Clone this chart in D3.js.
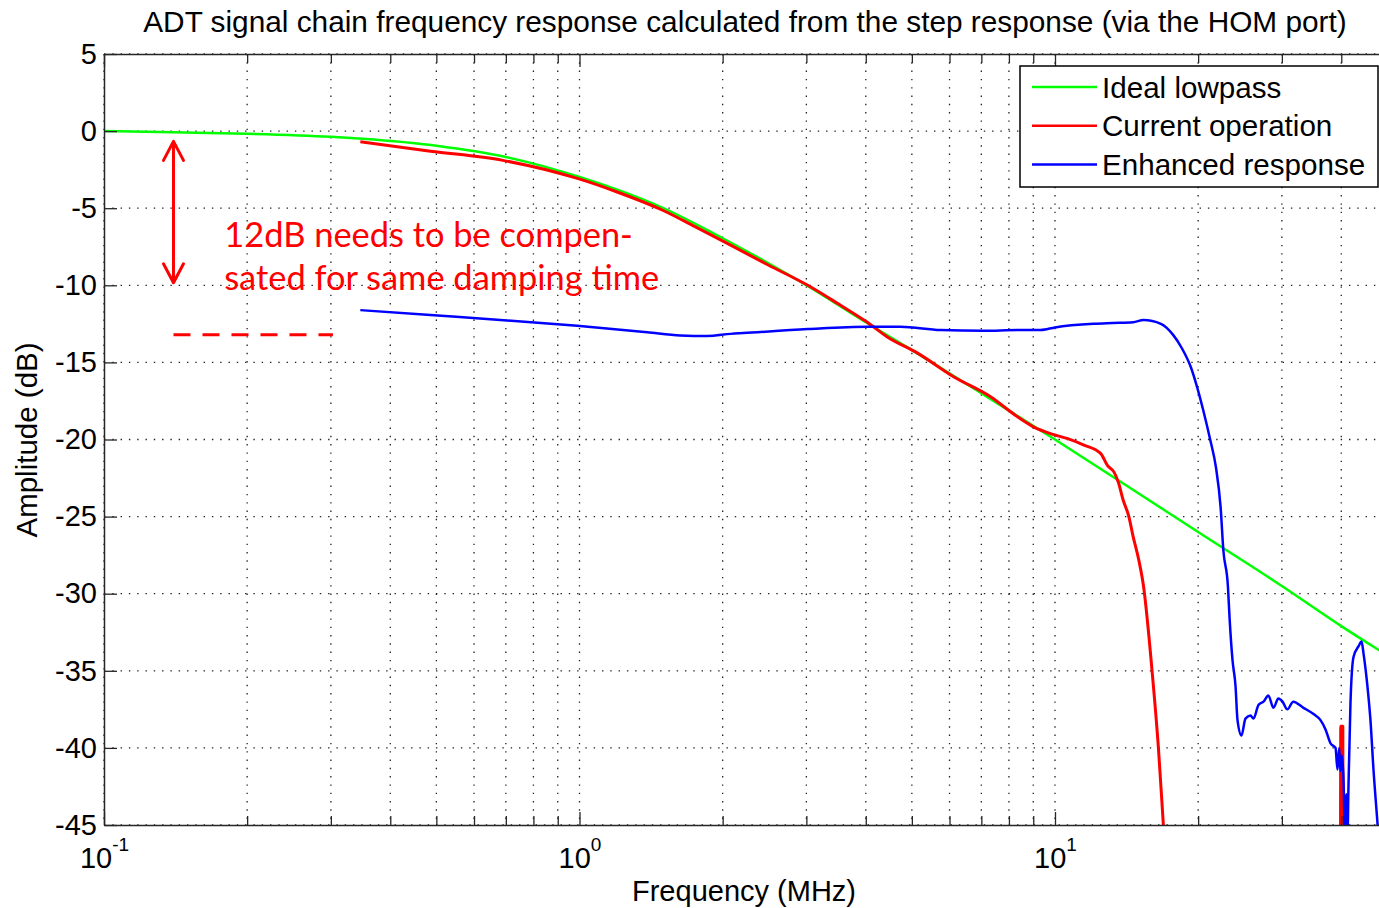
<!DOCTYPE html>
<html>
<head>
<meta charset="utf-8">
<script src="https://cdn.jsdelivr.net/npm/d3@7"></script>
<style>
  body { margin: 0; background: #fff; }
  svg { display: block; }
  text { font-family: "Liberation Sans", Arial, Helvetica, sans-serif; }
</style>
</head>
<body>
<script>
// values: frequency in MHz, amplitude in dB
const idealF  = [0.1, 0.14, 0.2, 0.3, 0.35, 0.5, 0.7, 1.0, 1.5, 2.0, 3.0, 4.0, 5.0, 7.0, 10, 14, 20, 30, 40, 50];
const idealDb = [0, -0.08, -0.17, -0.37, -0.5, -0.95, -1.68, -2.98, -5.0, -6.95, -10.0, -12.4, -14.2, -17.0, -20.0, -22.9, -26.0, -29.5, -32.1, -34.0];

const currentF  = [0.346, 0.486, 0.69, 0.99, 1.2, 1.5, 1.75, 2.05, 2.5, 3.02, 3.5, 4.03, 4.44, 5.14, 6.12, 7.32, 8.34, 9.01, 9.9, 10.6, 11.5, 12.47,
                   12.9, 13.3, 13.6, 13.9, 14.3, 14.6, 15.0, 15.35, 16.0, 16.5, 16.9, 17.3, 39.8, 39.9, 40.3, 40.4];
const currentDb = [-0.69, -1.3, -1.9, -3.07, -3.95, -5.15, -6.2, -7.3, -8.7, -10.0, -11.2, -12.4, -13.35, -14.4, -15.93, -17.23, -18.53, -19.18, -19.67, -19.93, -20.36, -20.9,
                   -21.7, -22.1, -22.8, -23.9, -25.0, -26.3, -27.8, -29.5, -35.0, -40.0, -45.0, -50, -55, -38.6, -38.6, -55];

const enhancedF  = [0.346, 0.486, 0.693, 0.989, 1.388, 1.63, 1.857, 2.08, 2.21, 3.02, 4.03, 4.73, 5.74, 7.07, 8.34, 9.32, 10.0,
                    12.05, 13.2, 14.6, 15.35, 16.7, 17.7, 18.5, 19.3, 19.9, 20.5, 21.2, 21.8, 22.3, 22.6, 23.1, 23.3, 23.62,
                    23.97, 24.2, 24.67, 25.15, 25.77, 26.15, 26.8, 27.45, 28.1, 28.8, 29.5, 30.1, 30.8, 31.7, 33.3, 34.97,
                    36.17, 37.06, 37.96, 38.9, 39.27, 39.6, 39.84, 40.1, 40.43, 40.7, 41.0, 41.2, 41.42, 41.82, 42.44, 43.5,
                    44.13, 44.56, 45.4, 46.07, 46.75, 47.7, 48.5];
const enhancedDb = [-11.61, -11.93, -12.26, -12.63, -13.04, -13.25, -13.29, -13.15, -13.1, -12.84, -12.69, -12.69, -12.9, -12.95, -12.9, -12.9, -12.73,
                    -12.5, -12.45, -12.4, -12.25, -12.5, -13.2, -14.1, -15.3, -16.6, -18.1, -20.0, -21.8, -24.4, -27.2, -29.5, -31.7, -34.3,
                    -36.0, -38.2, -39.2, -38.1, -37.9, -38.1, -37.2, -37.0, -36.6, -37.4, -36.8, -37.0, -37.5, -37.0, -37.4, -37.8,
                    -38.2, -38.8, -39.7, -40.0, -41.4, -40.0, -41.5, -40.5, -42.0, -45.5, -43.0, -46.0, -42.5, -37.1, -34.1, -33.4,
                    -33.1, -33.9, -36.0, -38.2, -41.4, -45.0, -48.0];

const majorTicks = [0.1, 1, 10];
const majorExp = ["-1", "0", "1"];
const minorTicks = [0.2, 0.3, 0.4, 0.5, 0.6, 0.7, 0.8, 0.9, 2, 3, 4, 5, 6, 7, 8, 9, 20, 30, 40];
const yTicks = [5, 0, -5, -10, -15, -20, -25, -30, -35, -40, -45];

const seriesNames = ["Ideal lowpass", "Current operation", "Enhanced response"];
const seriesColors = ["#00ff00", "#ff0000", "#0000ff"];
const seriesWidths = [2.5, 3, 2.5];

const titleText = "ADT signal chain frequency response calculated from the step response (via the HOM port)";
const noteLines = ["12dB needs to be compen-", "sated for same damping time"];

const width = 1379, height = 908;
const plotLeft = 104, plotTop = 54, plotBottom = 825;
const decade = 475.5;
const plotRight = plotLeft + decade * Math.log10(50 / 0.1);

const svg = d3.select("body").append("svg")
    .attr("width", width)
    .attr("height", height);

const x = d3.scaleLog().domain([0.1, 50]).range([plotLeft, plotRight]);
const y = d3.scaleLinear().domain([-45, 5]).range([plotBottom, plotTop]);

svg.append("clipPath").attr("id", "plotclip")
  .append("rect")
    .attr("x", plotLeft).attr("y", plotTop)
    .attr("width", plotRight - plotLeft).attr("height", plotBottom - plotTop);

// dotted grid
const grid = svg.append("g").attr("class", "grid");
grid.selectAll(".vgrid")
  .data(majorTicks.concat(minorTicks))
  .join("line")
    .attr("class", "vgrid")
    .attr("x1", d => x(d)).attr("x2", d => x(d))
    .attr("y1", plotTop).attr("y2", plotBottom);
grid.selectAll(".hgrid")
  .data(yTicks)
  .join("line")
    .attr("class", "hgrid")
    .attr("x1", plotLeft).attr("x2", plotRight)
    .attr("y1", d => y(d)).attr("y2", d => y(d));
grid.selectAll("line")
    .attr("stroke", "#222")
    .attr("stroke-width", 1.3)
    .attr("stroke-dasharray", "1.4,6.9");

// curves
const series = [
  d3.zip(idealF, idealDb),
  d3.zip(currentF, currentDb),
  d3.zip(enhancedF, enhancedDb)
];

const lineGen = d3.line()
    .x(d => x(d[0]))
    .y(d => y(d[1]))
    .curve(d3.curveMonotoneX);

svg.append("g")
    .attr("clip-path", "url(#plotclip)")
  .selectAll("path")
  .data(series)
  .join("path")
    .attr("d", lineGen)
    .attr("fill", "none")
    .attr("stroke", (d, i) => seriesColors[i])
    .attr("stroke-width", (d, i) => seriesWidths[i])
    .attr("stroke-linejoin", "round");

// axes: ticks point inwards like MATLAB
const axisStyle = g => {
  g.select(".domain").attr("stroke", "#262626").attr("stroke-width", 1.5);
  g.selectAll(".tick line").attr("stroke", "#262626").attr("stroke-width", 1.3);
};

const xAxis = svg.append("g")
    .attr("transform", `translate(0,${plotBottom})`)
    .call(d3.axisBottom(x).tickValues(majorTicks).tickSize(-13).tickSizeOuter(0).tickPadding(22).tickFormat(() => ""))
    .call(axisStyle);

xAxis.selectAll(".tick text")
    .attr("font-size", 29)
    .attr("fill", "#000")
    .attr("dy", "0.71em")
    .attr("text-anchor", "middle")
    .each(function(d, i) {
      const t = d3.select(this);
      t.append("tspan").text("10");
      t.append("tspan").attr("font-size", 19).attr("dy", "-0.85em").text(majorExp[i]);
    });

svg.append("g")
    .attr("transform", `translate(0,${plotBottom})`)
    .call(d3.axisBottom(x).tickValues(minorTicks).tickSize(-9).tickSizeOuter(0).tickFormat(() => ""))
    .call(axisStyle)
    .call(g => g.select(".domain").remove());

// top edge with ticks
svg.append("g")
    .attr("transform", `translate(0,${plotTop})`)
    .call(d3.axisTop(x).tickValues(majorTicks).tickSize(-13).tickSizeOuter(0).tickFormat(() => ""))
    .call(axisStyle);
svg.append("g")
    .attr("transform", `translate(0,${plotTop})`)
    .call(d3.axisTop(x).tickValues(minorTicks).tickSize(-9).tickSizeOuter(0).tickFormat(() => ""))
    .call(axisStyle)
    .call(g => g.select(".domain").remove());

svg.append("g")
    .attr("transform", `translate(${plotLeft},0)`)
    .call(d3.axisLeft(y).tickValues(yTicks).tickSize(-13).tickSizeOuter(0).tickPadding(7).tickFormat(d => String(d)))
    .call(axisStyle)
    .call(g => g.selectAll(".tick text").attr("font-size", 29).attr("fill", "#000"));

// titles
svg.append("text")
    .attr("x", 745).attr("y", 32)
    .attr("text-anchor", "middle")
    .attr("font-size", 29.8)
    .text(titleText);

svg.append("text")
    .attr("x", 744).attr("y", 901)
    .attr("text-anchor", "middle")
    .attr("font-size", 29)
    .text("Frequency (MHz)");

svg.append("text")
    .attr("transform", "translate(37,440) rotate(-90)")
    .attr("text-anchor", "middle")
    .attr("font-size", 29.5)
    .text("Amplitude (dB)");

// annotation: 12 dB gap arrow, level line and note
const red = "#ff0000";
const ax = x(0.14), aTop = y(-0.6), aBot = y(-9.9);
const ann = svg.append("g").attr("stroke", red).attr("fill", "none")
    .attr("stroke-width", 3).attr("stroke-linecap", "round").attr("stroke-linejoin", "round");
ann.append("line").attr("x1", ax).attr("x2", ax).attr("y1", aTop + 2).attr("y2", aBot - 2);
ann.append("path").attr("d", `M${ax - 10},${aTop + 20}L${ax},${aTop + 1}L${ax + 10},${aTop + 20}`);
ann.append("path").attr("d", `M${ax - 10},${aBot - 20}L${ax},${aBot - 1}L${ax + 10},${aBot - 20}`);

svg.append("line")
    .attr("x1", x(0.14)).attr("x2", x(0.303))
    .attr("y1", y(-13.2)).attr("y2", y(-13.2))
    .attr("stroke", red).attr("stroke-width", 3)
    .attr("stroke-dasharray", "17,12");

const note = svg.append("g").attr("fill", red);
const noteTexts = note.selectAll("text")
  .data(noteLines)
  .join("text")
    .attr("x", x(0.179))
    .attr("y", (d, i) => i === 0 ? y(-7.5) : y(-10.3))
    .style("font-family", "Lato, 'Open Sans', sans-serif")
    .attr("font-size", 34)
    .text(d => d);
// fit the second line to its width in the picture
const w2 = noteTexts.nodes()[1].getComputedTextLength();
noteTexts.attr("font-size", 34 * 435 / w2);

// legend
const legend = svg.append("g").attr("transform", "translate(1020,66)");
legend.append("rect")
    .attr("width", 358).attr("height", 121)
    .attr("fill", "#fff").attr("stroke", "#000").attr("stroke-width", 1.5);
const rows = legend.selectAll(".row")
  .data(seriesNames)
  .join("g")
    .attr("class", "row")
    .attr("transform", (d, i) => `translate(0,${21 + i * 38.7})`);
rows.append("line")
    .attr("x1", 12).attr("x2", 77)
    .attr("stroke", (d, i) => seriesColors[i])
    .attr("stroke-width", 2.5);
rows.append("text")
    .attr("x", 82).attr("dy", "0.36em")
    .attr("font-size", 29.6)
    .text(d => d);
</script>
</body>
</html>
